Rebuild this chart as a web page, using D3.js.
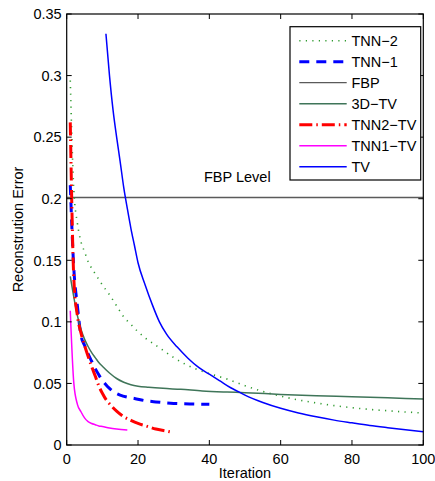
<!DOCTYPE html>
<html>
<head>
<meta charset="utf-8">
<script src="https://cdn.jsdelivr.net/npm/d3@7"></script>
<style>
  body { margin: 0; background: #fff; }
  svg text { font-family: "Liberation Sans", Arial, sans-serif; }
</style>
</head>
<body>
<div id="chart"></div>
<script>
// reconstruction error vs iteration
const legendNames = ["TNN\u22122", "TNN\u22121", "FBP", "3D\u2212TV", "TNN2\u2212TV", "TNN1\u2212TV", "TV"];

const tnn2Iter = [1, 2, 3, 4, 5, 6, 7, 8, 9, 10, 12, 14, 16, 18, 20, 22, 25, 27, 30, 33, 36, 40, 45, 50, 55, 60, 65, 70, 75, 80, 85, 90, 95, 100];
const tnn2Err = [0.296, 0.207, 0.180, 0.165, 0.157, 0.149, 0.1435, 0.139, 0.1345, 0.130, 0.122, 0.113, 0.104, 0.098, 0.092, 0.087, 0.081, 0.077, 0.071, 0.066, 0.062, 0.058, 0.0535, 0.0482, 0.0435, 0.0397, 0.0366, 0.0341, 0.032, 0.0303, 0.0289, 0.0278, 0.0268, 0.026];

const tnn1Iter = [1, 2, 3, 4, 5, 6, 7, 8, 9, 10, 11, 12, 13, 15, 17, 19, 22, 25, 30, 35, 40];
const tnn1Err = [0.211, 0.143, 0.113, 0.089, 0.081, 0.074, 0.068, 0.062, 0.057, 0.0525, 0.049, 0.046, 0.0435, 0.0405, 0.0388, 0.0378, 0.036, 0.035, 0.0338, 0.0333, 0.033];

const fbpLevel = 0.201;

const tv3dIter = [1, 2, 3, 4, 5, 6, 7, 8, 9, 10, 12, 14, 16, 18, 20, 23, 27, 32, 38, 45, 50, 60, 70, 80, 90, 100];
const tv3dErr = [0.137, 0.12, 0.105, 0.094, 0.086, 0.080, 0.075, 0.071, 0.067, 0.064, 0.0585, 0.054, 0.051, 0.049, 0.0478, 0.0469, 0.046, 0.0452, 0.0439, 0.043, 0.0425, 0.0411, 0.040, 0.0392, 0.0383, 0.0374];

const tnn2tvIter = [1, 2, 3, 4, 5, 6, 7, 8, 9, 10, 11, 12, 14, 16, 18, 20, 22, 25, 28, 30];
const tnn2tvErr = [0.262, 0.135, 0.105, 0.091, 0.081, 0.072, 0.0636, 0.056, 0.048, 0.042, 0.037, 0.0335, 0.0275, 0.023, 0.020, 0.0175, 0.0157, 0.013, 0.0113, 0.010];

const tnn1tvIter = [1, 2, 3, 4, 5, 6, 7, 8, 9, 10, 12, 14, 17];
const tnn1tvErr = [0.109, 0.05, 0.033, 0.027, 0.022, 0.019, 0.0175, 0.0165, 0.0155, 0.015, 0.0138, 0.013, 0.0122];

const tvIter = [11, 12, 13, 14, 15, 16, 17, 18, 19, 20, 22, 24, 26, 28, 31, 34, 37, 40, 43, 46, 48, 50, 55, 60, 65, 70, 75, 80, 85, 90, 95, 100];
const tvErr = [0.334, 0.300, 0.272, 0.250, 0.230, 0.209, 0.192, 0.176, 0.162, 0.148, 0.130, 0.114, 0.100, 0.090, 0.0795, 0.0705, 0.063, 0.0575, 0.052, 0.0465, 0.0435, 0.0405, 0.0345, 0.0298, 0.026, 0.0229, 0.0202, 0.018, 0.0159, 0.0141, 0.0124, 0.0108];

const xTicks = [0, 20, 40, 60, 80, 100];
const yTicks = [0, 0.05, 0.1, 0.15, 0.2, 0.25, 0.3, 0.35];

const W = 435, H = 481;
const m = { left: 66.7, right: 11.7, top: 14, bottom: 36 };
const pw = W - m.left - m.right, ph = H - m.top - m.bottom;

const svg = d3.select("#chart").append("svg")
    .attr("width", W)
    .attr("height", H);

const x = d3.scaleLinear().domain([0, 100]).range([0, pw]);
const y = d3.scaleLinear().domain([0, 0.35]).range([ph, 0]);

const g = svg.append("g").attr("transform", `translate(${m.left},${m.top})`);

// series styles
const series = [
    { name: legendNames[0], it: tnn2Iter, v: tnn2Err, color: "#2f9a2f", w: 1.6, dash: "1.2,5.3" },
    { name: legendNames[1], it: tnn1Iter, v: tnn1Err, color: "#0000ff", w: 3, dash: "10,7" },
    { name: legendNames[3], it: tv3dIter, v: tv3dErr, color: "#3f7559", w: 1.5, dash: null },
    { name: legendNames[4], it: tnn2tvIter, v: tnn2tvErr, color: "#ff0000", w: 3, dash: "13,4,1.5,4" },
    { name: legendNames[5], it: tnn1tvIter, v: tnn1tvErr, color: "#ff00ff", w: 1.5, dash: null },
    { name: legendNames[6], it: tvIter, v: tvErr, color: "#0000ff", w: 1.5, dash: null }
];

// FBP level line
g.append("line")
    .attr("x1", x(0)).attr("x2", x(100))
    .attr("y1", y(fbpLevel)).attr("y2", y(fbpLevel))
    .attr("stroke", "#5a5a5a")
    .attr("stroke-width", 1.5);

g.append("text")
    .attr("x", x(38.5))
    .attr("y", y(fbpLevel) - 15)
    .attr("font-size", "14.5px")
    .text("FBP Level");

const line = d3.line()
    .x(d => x(d[0]))
    .y(d => y(d[1]))
    .curve(d3.curveMonotoneX);

series.forEach(s => {
    const pts = s.it.map((t, i) => [t, s.v[i]]);
    g.append("path")
        .datum(pts)
        .attr("fill", "none")
        .attr("stroke", s.color)
        .attr("stroke-width", s.w)
        .attr("stroke-dasharray", s.dash)
        .attr("d", line);
});

// box and inner ticks, matlab style
g.append("rect")
    .attr("width", pw).attr("height", ph)
    .attr("fill", "none").attr("stroke", "#000").attr("stroke-width", 1.2);

const tl = 5;
xTicks.forEach(t => {
    g.append("line").attr("x1", x(t)).attr("x2", x(t)).attr("y1", ph).attr("y2", ph - tl).attr("stroke", "#000");
    g.append("line").attr("x1", x(t)).attr("x2", x(t)).attr("y1", 0).attr("y2", tl).attr("stroke", "#000");
    g.append("text")
        .attr("x", x(t)).attr("y", ph + 18.5)
        .attr("text-anchor", "middle")
        .attr("font-size", "14.5px")
        .text(t);
});
yTicks.forEach(t => {
    g.append("line").attr("x1", 0).attr("x2", tl).attr("y1", y(t)).attr("y2", y(t)).attr("stroke", "#000");
    g.append("line").attr("x1", pw).attr("x2", pw - tl).attr("y1", y(t)).attr("y2", y(t)).attr("stroke", "#000");
    g.append("text")
        .attr("x", -5).attr("y", y(t))
        .attr("dy", "0.36em")
        .attr("text-anchor", "end")
        .attr("font-size", "14.5px")
        .text(t);
});

g.append("text")
    .attr("x", pw / 2).attr("y", ph + 33)
    .attr("text-anchor", "middle")
    .attr("font-size", "14.5px")
    .text("Iteration");

g.append("text")
    .attr("transform", `translate(${-m.left + 23},${ph / 2}) rotate(-90)`)
    .attr("text-anchor", "middle")
    .attr("font-size", "14.5px")
    .text("Reconstrution Error");

// legend
const lg = svg.append("g").attr("transform", "translate(290,26.7)");
lg.append("rect")
    .attr("width", 130.7).attr("height", 153.3)
    .attr("fill", "#fff").attr("stroke", "#000").attr("stroke-width", 1.2);

const legendItems = [
    series[0], series[1],
    { name: legendNames[2], color: "#5a5a5a", w: 1.2, dash: null },
    series[2], series[3], series[4], series[5]
];
legendItems.forEach((s, i) => {
    const yy = 14 + i * 21;
    lg.append("line")
        .attr("x1", 9.3).attr("x2", 56.7)
        .attr("y1", yy).attr("y2", yy)
        .attr("stroke", s.color)
        .attr("stroke-width", s.w)
        .attr("stroke-dasharray", s.dash);
    lg.append("text")
        .attr("x", 61.5).attr("y", yy)
        .attr("dy", "0.36em")
        .attr("font-size", "14.5px")
        .text(s.name);
});
</script>
</body>
</html>
